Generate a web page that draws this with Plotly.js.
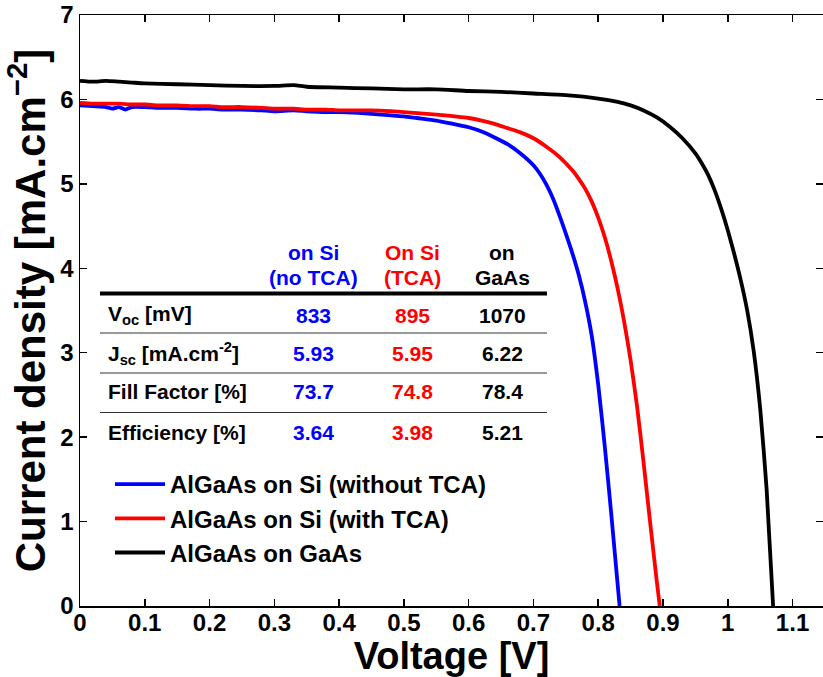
<!DOCTYPE html>
<html>
<head>
<meta charset="utf-8">
<script src="https://cdn.plot.ly/plotly-3.0.1.min.js"></script>
<style>html,body{margin:0;padding:0;background:#fff;overflow:hidden}#chart{width:823px;height:677px}</style>
</head>
<body>
<div id="chart"></div>
<script>
// ---- Data ----
const seriesNames = ["AlGaAs on Si (without TCA)", "AlGaAs on Si (with TCA)", "AlGaAs on GaAs"];
const seriesColors = ["#0000FF", "#FF0000", "#000000"];

const V_noTCA = [0, 0.02, 0.04, 0.05, 0.06, 0.07, 0.08, 0.10, 0.12, 0.15, 0.18, 0.20, 0.22, 0.25, 0.28, 0.30, 0.33, 0.35, 0.38, 0.40, 0.43, 0.45, 0.48, 0.50, 0.52, 0.55, 0.57, 0.60, 0.62, 0.64, 0.66, 0.68, 0.70, 0.71, 0.72, 0.73, 0.74, 0.75, 0.76, 0.77, 0.78, 0.79, 0.80, 0.81, 0.82, 0.833];
const J_noTCA = [5.93, 5.92, 5.91, 5.89, 5.91, 5.88, 5.91, 5.91, 5.90, 5.90, 5.89, 5.89, 5.88, 5.88, 5.87, 5.86, 5.87, 5.86, 5.85, 5.85, 5.84, 5.83, 5.81, 5.80, 5.78, 5.75, 5.72, 5.67, 5.62, 5.55, 5.47, 5.36, 5.22, 5.12, 4.99, 4.83, 4.63, 4.41, 4.18, 3.92, 3.60, 3.20, 2.62, 1.90, 1.10, 0];

const V_TCA = [0, 0.02, 0.04, 0.06, 0.08, 0.10, 0.12, 0.15, 0.18, 0.20, 0.22, 0.25, 0.28, 0.30, 0.33, 0.35, 0.38, 0.40, 0.43, 0.45, 0.48, 0.50, 0.55, 0.60, 0.62, 0.64, 0.66, 0.68, 0.70, 0.72, 0.74, 0.76, 0.77, 0.78, 0.79, 0.80, 0.81, 0.82, 0.83, 0.84, 0.85, 0.86, 0.87, 0.88, 0.89, 0.895];
const J_TCA = [5.96, 5.95, 5.95, 5.95, 5.94, 5.94, 5.93, 5.93, 5.92, 5.92, 5.91, 5.91, 5.90, 5.89, 5.89, 5.88, 5.88, 5.87, 5.87, 5.87, 5.86, 5.85, 5.82, 5.78, 5.75, 5.71, 5.66, 5.61, 5.54, 5.44, 5.32, 5.16, 5.06, 4.94, 4.79, 4.60, 4.37, 4.09, 3.76, 3.37, 2.91, 2.36, 1.70, 1.00, 0.32, 0];

const V_GaAs = [0, 0.02, 0.04, 0.06, 0.08, 0.10, 0.15, 0.20, 0.25, 0.30, 0.33, 0.35, 0.40, 0.45, 0.50, 0.55, 0.60, 0.65, 0.70, 0.75, 0.80, 0.83, 0.85, 0.87, 0.89, 0.91, 0.93, 0.95, 0.96, 0.97, 0.98, 0.99, 1.00, 1.01, 1.02, 1.03, 1.04, 1.05, 1.06, 1.07];
const J_GaAs = [6.22, 6.21, 6.22, 6.21, 6.20, 6.19, 6.18, 6.17, 6.16, 6.16, 6.17, 6.15, 6.14, 6.13, 6.12, 6.12, 6.10, 6.09, 6.07, 6.05, 6.01, 5.97, 5.93, 5.87, 5.79, 5.68, 5.54, 5.36, 5.24, 5.10, 4.92, 4.70, 4.45, 4.17, 3.86, 3.50, 3.02, 2.34, 1.38, 0];

const xTickVals = [0, 0.1, 0.2, 0.3, 0.4, 0.5, 0.6, 0.7, 0.8, 0.9, 1, 1.1];
const xTickText = ["0", "0.1", "0.2", "0.3", "0.4", "0.5", "0.6", "0.7", "0.8", "0.9", "1", "1.1"];
const yTickVals = [0, 1, 2, 3, 4, 5, 6, 7];

// table
const tableHeaders = [["on Si", "(no TCA)"], ["On Si", "(TCA)"], ["on", "GaAs"]];
const tableRowLabels = ["V<sub>oc</sub> [mV]", "J<sub>sc</sub> [mA.cm<sup>-2</sup>]", "Fill Factor [%]", "Efficiency [%]"];
const col_noTCA = ["833", "5.93", "73.7", "3.64"];
const col_TCA = ["895", "5.95", "74.8", "3.98"];
const col_GaAs = ["1070", "6.22", "78.4", "5.21"];

// ---- Layout helpers (pixel -> paper) ----
const W = 823, H = 677;
const M = {l: 80, r: 0, t: 15, b: 71};
const PW = W - M.l - M.r, PH = H - M.t - M.b;
const px = p => (p - M.l) / PW;
const py = p => (H - M.b - p) / PH;

const FONT = "Liberation Sans, Arial, Helvetica, sans-serif";

const traces = [
  {x: V_noTCA, y: J_noTCA, name: seriesNames[0], color: seriesColors[0]},
  {x: V_TCA, y: J_TCA, name: seriesNames[1], color: seriesColors[1]},
  {x: V_GaAs, y: J_GaAs, name: seriesNames[2], color: seriesColors[2]}
].map(s => ({
  type: "scatter", mode: "lines", x: s.x, y: s.y, name: s.name,
  line: {color: s.color, width: 3.8, shape: "spline", smoothing: 0.6}, hoverinfo: "x+y+name"
}));

const annotations = [];
const shapes = [];
const colX = [313, 412, 502];
const colColors = seriesColors;
const headerY = [253, 277];
const rowY = [315, 353, 392, 432];
const columns = [col_noTCA, col_TCA, col_GaAs];

tableHeaders.forEach((hdr, c) => {
  hdr.forEach((txt, k) => {
    annotations.push({xref: "paper", yref: "paper", x: px(colX[c]), y: py(headerY[k]),
      text: "<b>" + txt + "</b>", showarrow: false, xanchor: "center", yanchor: "middle",
      font: {family: FONT, size: 21, color: colColors[c]}});
  });
});
tableRowLabels.forEach((lab, r) => {
  annotations.push({xref: "paper", yref: "paper", x: px(106), y: py(rowY[r]),
    text: "<b>" + lab + "</b>", showarrow: false, xanchor: "left", yanchor: "middle",
    font: {family: FONT, size: 21, color: "#000"}});
  columns.forEach((col, c) => {
    annotations.push({xref: "paper", yref: "paper", x: px(colX[c]), y: py(rowY[r]),
      text: "<b>" + col[r] + "</b>", showarrow: false, xanchor: "center", yanchor: "middle",
      font: {family: FONT, size: 21, color: colColors[c]}});
  });
});
shapes.push({type: "line", xref: "paper", yref: "paper", x0: px(100), x1: px(547), y0: py(293.5), y1: py(293.5), line: {color: "#000", width: 4}});
[333, 373, 412.5].forEach(yy => shapes.push({type: "line", xref: "paper", yref: "paper", x0: px(100), x1: px(547), y0: py(yy), y1: py(yy), line: {color: "#333", width: 1}}));

const axisCommon = {
  ticks: "inside", ticklen: 7, tickwidth: 1.5, tickcolor: "#000",
  showline: true, linewidth: 1.5, linecolor: "#000", mirror: "ticks",
  showgrid: false, zeroline: false,
  tickfont: {family: FONT, size: 24, color: "#000", weight: "bold"}
};

const layout = {
  width: W, height: H, margin: M,
  paper_bgcolor: "#fff", plot_bgcolor: "#fff",
  font: {family: FONT, color: "#000"},
  showlegend: true,
  legend: {x: px(110), y: py(462), xanchor: "left", yanchor: "top", bgcolor: "rgba(0,0,0,0)",
    itemwidth: 50,
    font: {family: FONT, size: 24, color: "#000", weight: "bold"}, tracegroupgap: 0},
  xaxis: Object.assign({}, axisCommon, {range: [0, 1.147], tickvals: xTickVals, ticktext: xTickText,
    ticklabelstandoff: -5,
    title: {text: "<b>Voltage [V]</b>", font: {family: FONT, size: 38, color: "#000"}, standoff: 10}}),
  yaxis: Object.assign({}, axisCommon, {range: [0, 7], tickvals: yTickVals,
    title: {text: "<b>Current density [mA.cm<sup>−2</sup>]</b>", font: {family: FONT, size: 42, color: "#000"}, standoff: 2}}),
  annotations: annotations, shapes: shapes
};

Plotly.newPlot("chart", traces, layout, {displayModeBar: false, staticPlot: true});
</script>
</body>
</html>
